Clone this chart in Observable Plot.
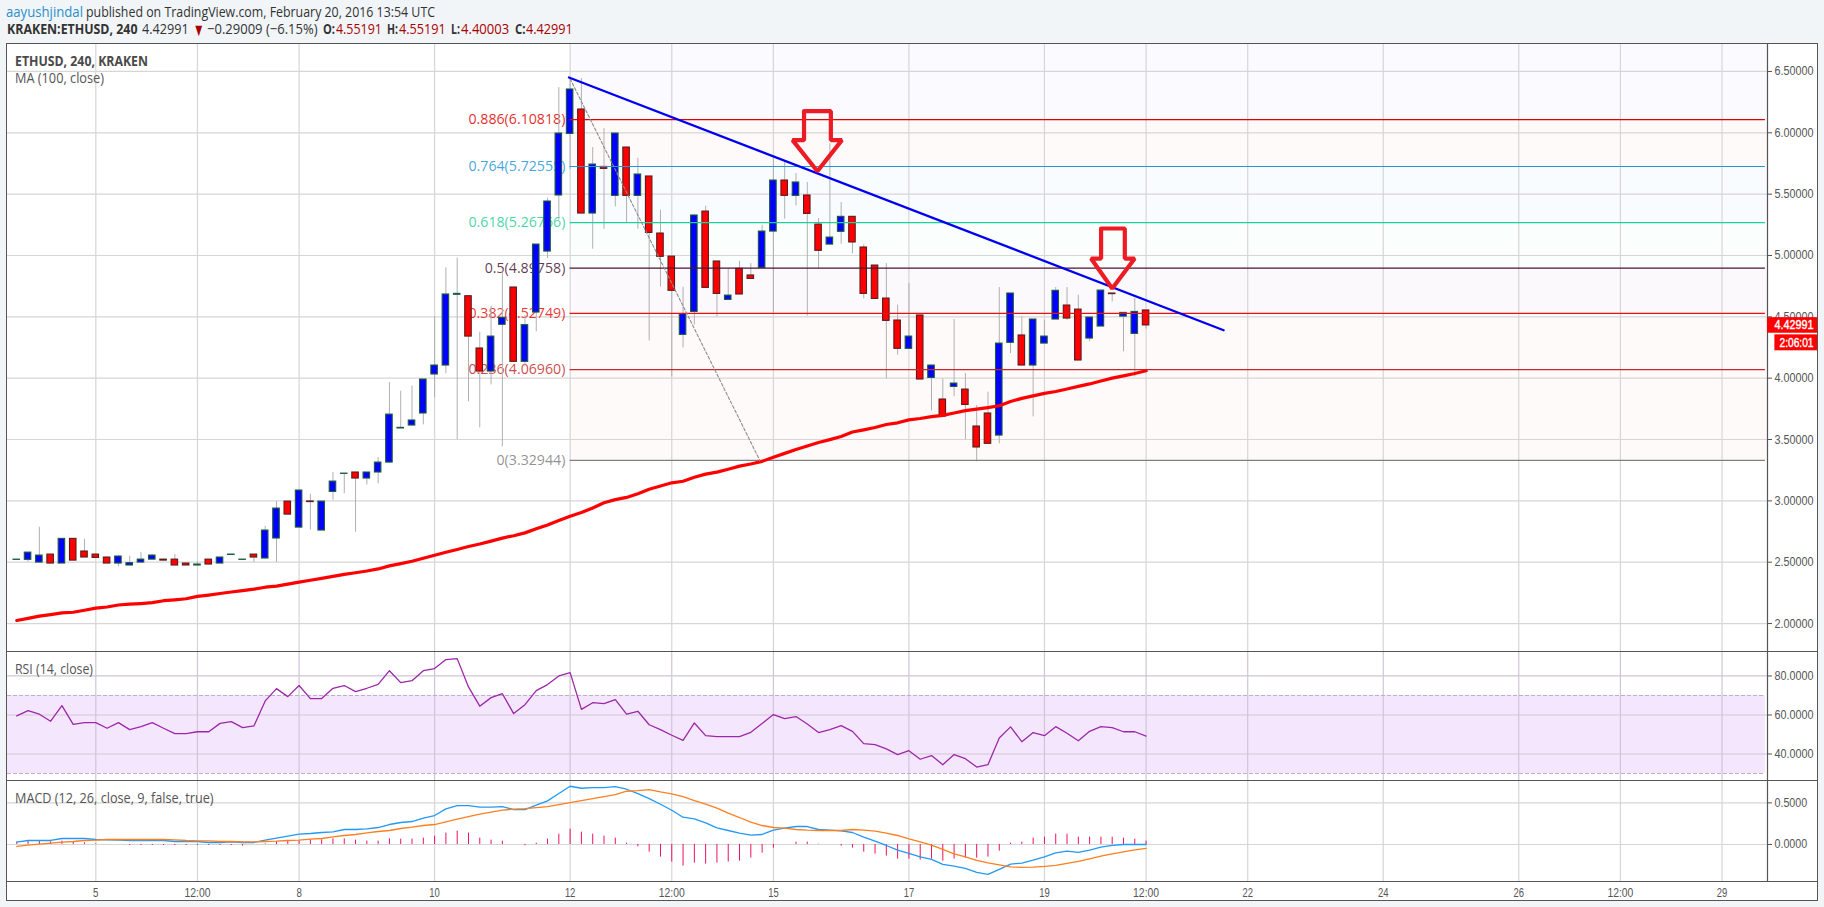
<!DOCTYPE html>
<html><head><meta charset="utf-8">
<script src="https://cdn.jsdelivr.net/npm/d3@7"></script>
<script src="https://cdn.jsdelivr.net/npm/@observablehq/plot@0.6"></script>
<style>
html,body{margin:0;padding:0;background:#f1f5f8;width:1824px;height:907px;overflow:hidden}
#frame{position:absolute;left:6px;top:43px;width:1810px;height:856px;background:#fff;border:1px solid #555}
.pane{position:absolute;left:0}
.pane svg{display:block;background:transparent}
.t{position:absolute;white-space:nowrap;transform-origin:0 50%;font-family:"Open Sans";line-height:18px;height:18px}
</style></head><body>
<div id="frame"></div>
<div id="main" class="pane" style="top:43px"></div>
<div id="rsi" class="pane" style="top:651px"></div>
<div id="macd" class="pane" style="top:780px"></div>
<script>
const firstBarDay = 3 + 5/6, barStep = 1/6;
const opens  = [2.519,2.519,2.497,2.562,2.489,2.690,2.587,2.562,2.538,2.489,2.473,2.497,2.521,2.521,2.521,2.489,2.473,2.521,2.489,2.559,2.519,2.562,2.530,2.693,2.994,2.782,2.995,2.758,3.073,3.220,3.231,3.182,3.231,3.312,3.590,3.614,3.712,4.030,4.103,4.680,4.668,4.242,4.054,4.435,4.739,4.133,4.535,5.032,5.489,5.991,6.190,5.342,5.722,5.486,5.880,5.486,5.644,5.179,4.991,4.353,4.540,5.358,4.951,4.638,4.891,4.837,4.899,5.195,5.611,5.486,5.489,5.252,5.089,5.193,5.315,5.065,4.918,4.649,4.470,4.239,4.511,4.002,3.826,3.929,3.907,3.606,3.712,3.532,4.288,4.348,4.103,4.282,4.478,4.592,4.559,4.323,4.421,4.690,4.502,4.361,4.55191];
const highs  = [2.523,2.578,2.785,2.562,2.690,2.690,2.687,2.562,2.538,2.552,2.549,2.578,2.560,2.521,2.562,2.489,2.505,2.521,2.538,2.562,2.521,2.562,2.793,2.997,2.994,3.084,3.054,2.994,3.231,3.222,3.231,3.231,3.353,3.964,3.894,3.935,3.989,4.500,4.899,4.980,4.668,4.375,4.587,4.866,4.739,4.510,5.089,5.467,6.369,6.440,6.442,5.880,6.035,5.994,5.880,5.793,5.644,5.369,4.991,4.741,5.326,5.402,4.951,4.894,4.953,4.934,5.247,5.804,5.763,5.668,5.595,5.301,5.910,5.432,5.315,5.087,4.918,4.934,4.595,4.771,4.511,4.103,3.992,4.478,4.038,3.777,3.886,4.739,4.690,4.500,4.478,4.473,4.739,4.739,4.676,4.494,4.714,4.690,4.532,4.649,4.55191];
const lows   = [2.519,2.500,2.497,2.489,2.489,2.513,2.538,2.535,2.489,2.462,2.473,2.497,2.521,2.513,2.473,2.473,2.473,2.481,2.489,2.559,2.519,2.497,2.530,2.497,2.888,2.782,2.761,2.758,3.005,3.057,2.744,3.130,3.138,3.312,3.590,3.614,3.619,3.839,4.035,3.500,3.807,3.595,3.945,3.440,4.133,4.100,4.378,4.975,5.288,5.700,5.342,5.051,5.214,5.396,5.269,5.214,4.304,4.744,4.010,4.247,4.432,4.736,4.499,4.638,4.682,4.809,4.899,4.530,5.296,5.404,4.505,4.894,5.089,5.092,5.013,4.646,4.646,3.994,4.187,4.239,3.989,3.733,3.687,3.848,3.500,3.318,3.465,3.465,4.201,4.103,3.684,4.282,4.478,4.472,4.144,4.296,4.421,4.622,4.214,4.011,4.40003];
const closes = [2.521,2.578,2.554,2.489,2.690,2.513,2.538,2.535,2.489,2.546,2.492,2.521,2.554,2.513,2.473,2.473,2.481,2.481,2.538,2.562,2.521,2.538,2.758,2.937,2.888,3.084,2.990,2.994,3.157,3.222,3.182,3.231,3.312,3.703,3.595,3.655,3.989,4.103,4.682,4.687,4.339,4.054,4.339,4.492,4.133,4.432,5.089,5.440,5.994,6.353,5.342,5.741,5.706,5.994,5.486,5.660,5.184,4.989,4.712,4.521,5.326,4.736,4.687,4.673,4.682,4.809,5.195,5.611,5.486,5.595,5.339,5.038,5.146,5.315,5.106,4.687,4.646,4.467,4.239,4.339,3.989,4.103,3.687,3.956,3.782,3.435,3.465,4.282,4.690,4.103,4.478,4.339,4.712,4.486,4.144,4.494,4.714,4.685,4.532,4.540,4.42991];
const maValues = [2.025,2.042,2.060,2.073,2.087,2.092,2.108,2.125,2.135,2.151,2.158,2.163,2.170,2.186,2.193,2.202,2.221,2.232,2.245,2.257,2.268,2.280,2.296,2.305,2.321,2.337,2.353,2.368,2.384,2.401,2.414,2.428,2.445,2.470,2.488,2.508,2.532,2.557,2.581,2.604,2.628,2.648,2.672,2.696,2.716,2.739,2.772,2.804,2.840,2.875,2.905,2.942,2.985,3.010,3.028,3.058,3.095,3.121,3.147,3.160,3.192,3.218,3.234,3.258,3.283,3.300,3.322,3.356,3.387,3.418,3.447,3.476,3.499,3.524,3.561,3.579,3.598,3.622,3.636,3.660,3.671,3.686,3.697,3.716,3.735,3.747,3.760,3.775,3.810,3.835,3.856,3.876,3.891,3.912,3.933,3.953,3.977,4.000,4.019,4.038,4.060];
const rsiValues = [59.5,62.2,60.4,56.8,64.8,55.2,56.1,56.1,53.2,56.1,52.5,54.0,56.1,53.2,50.4,50.4,51.4,51.4,55.7,56.6,53.5,54.4,67.2,73.5,69.4,75.1,68.4,68.4,73.7,75.1,72.0,73.7,75.7,82.7,76.6,77.6,82.7,83.8,88.4,88.9,74.4,64.5,68.9,70.9,60.7,65.3,72.5,75.6,80.0,81.7,62.9,66.3,65.8,67.9,60.4,61.9,55.0,52.5,49.6,47.0,55.9,49.4,48.9,48.9,48.9,51.1,55.6,60.2,58.1,59.2,55.4,51.0,52.5,54.5,51.6,45.3,44.8,42.6,39.7,41.7,37.3,39.2,34.5,39.7,37.6,33.3,34.5,48.2,53.9,46.3,51.0,49.4,54.0,50.6,46.8,51.6,54.0,53.5,51.4,51.4,49.2];
const macdValues = [.028,.048,.048,.048,.072,.072,.072,.06,.056,.052,.048,.048,.048,.048,.036,.036,.036,.024,.024,.032,.024,.024,.052,.076,.1,.124,.132,.144,.152,.18,.18,.188,.204,.24,.264,.276,.316,.348,.428,.468,.468,.448,.448,.456,.42,.42,.472,.524,.612,.70,.676,.684,.684,.696,.664,.612,.552,.484,.412,.328,.308,.26,.2,.168,.136,.112,.12,.172,.196,.216,.216,.18,.172,.164,.144,.088,.04,-.012,-.068,-.108,-.148,-.18,-.24,-.26,-.288,-.336,-.36,-.3,-.236,-.224,-.188,-.148,-.1,-.08,-.096,-.068,-.032,-.012,0,0,0];
const signalValues = [-.024,-.008,.004,.016,.028,.036,.048,.052,.06,.06,.06,.06,.06,.06,.056,.048,.044,.044,.036,.036,.032,.032,.036,.04,.048,.052,.064,.072,.092,.108,.12,.14,.156,.168,.192,.208,.228,.24,.272,.304,.336,.364,.388,.412,.424,.432,.444,.456,.48,.504,.528,.552,.576,.6,.64,.648,.66,.632,.608,.576,.528,.484,.436,.376,.324,.268,.228,.204,.196,.18,.172,.168,.168,.168,.18,.172,.16,.136,.108,.068,.032,-.008,-.06,-.112,-.148,-.192,-.22,-.244,-.268,-.276,-.272,-.264,-.252,-.228,-.204,-.172,-.14,-.112,-.088,-.064,-.048];
const histValues = [.028,.04,.044,.032,.04,.036,.02,.008,0,0,-.012,-.012,-.012,-.012,-.012,-.012,-.012,-.012,-.012,-.012,-.02,0,.008,.036,.044,.044,.06,.056,.068,.068,.052,.04,.04,.068,.064,.064,.076,.1,.136,.16,.136,.076,.052,.04,0,-.016,.016,.064,.124,.184,.148,.124,.1,.076,.016,-.028,-.092,-.152,-.212,-.26,-.224,-.236,-.224,-.212,-.2,-.164,-.104,-.044,0,.028,.028,.004,0,-.02,-.044,-.092,-.116,-.14,-.176,-.176,-.188,-.176,-.2,-.176,-.164,-.164,-.152,-.08,.016,.028,.076,.088,.124,.124,.088,.088,.088,.088,.076,.064,.04];

const fibRatios = ["0.886","0.764","0.618","0.5","0.382","0.236","0"];
const fibPrices = [6.10818,5.72555,5.26766,4.89758,4.52749,4.06960,3.32944];
const fibColors = ["#e00000","#2196d8","#1fcf98","#4a1436","#e81010","#c62828","#808080"];
const fibTints  = ["#fffafa","#f8fcff","#fafffd","#fbf9fb","#fffafa","#fefafa"];
const fibTopTint = "#fbfbff";
const fibStartDay = 12;

const trendDays = [11.983,21.645], trendPrices = [6.451,4.391];
const retraceDays = [12,14.8], retracePrices = [6.44,3.32944];
const arrowDays1 = [15.452,15.848,15.848,16.011,15.649,15.282,15.452,15.452];
const arrowPrices1 = [6.176,6.176,5.940,5.940,5.687,5.940,5.940,6.176];
const arrowDays2 = [19.836,20.186,20.186,20.332,20.0,19.688,19.836,19.836];
const arrowPrices2 = [5.220,5.220,4.975,4.975,4.731,4.975,4.975,5.220];

const tickDays = [5,6.5,8,10,12,13.5,15,17,19,20.5,22,24,26,27.5,29];
const tickLabels = ["5","12:00","8","10","12","12:00","15","17","19","12:00","22","24","26","12:00","29"];
const boldDays = [8,15,22,29];
const priceTicks = [2,2.5,3,3.5,4,4.5,5,5.5,6,6.5];
const rsiTicks = [40,60,80], rsiBand = [30,70];
const macdTicks = [0,0.5];

const bars = opens.map((o,i)=>({day:firstBarDay+i*barStep,o,h:highs[i],l:lows[i],c:closes[i],up:closes[i]>=o,hist:histValues[i]}));

const W = 1824, mL = 7, mR = 57;
const xDomain = [3.6967,29.671], xEdge = 30.41;
const gridColor = "#d6d6d6", lineColor = "#555";
const axisStyle = {background:"transparent",fontFamily:"'Liberation Sans',sans-serif",fontSize:"12px",color:"#555"};
const xOpts = {type:"linear",domain:xDomain,axis:null};
const vGrid = Plot.ruleX(tickDays,{stroke:gridColor,strokeWidth:1.2});
const hGrid = t => Plot.ruleY(t,{stroke:gridColor,strokeWidth:1.2,x1:xDomain[0],x2:xDomain[1]});
const paneLine = v => Plot.ruleY([v],{stroke:lineColor,strokeWidth:1.2,x1:xDomain[0],x2:xEdge});
const rightLine = Plot.ruleX([xDomain[1]],{stroke:lineColor,strokeWidth:1.2});
const rightAxis = (ticks,fmt) => Plot.axisY({anchor:"right",ticks,tickFormat:fmt,tickSize:4,tickPadding:3,label:null,stroke:"#555"});

// MAIN PANE
const yMain = [1.772,6.728];
const fibBands = fibTints.map((fill,i)=>({y1:fibPrices[i+1],y2:fibPrices[i],fill}));
fibBands.push({y1:fibPrices[0],y2:yMain[1],fill:fibTopTint});
const fibs = fibRatios.map((r,i)=>({r,p:fibPrices[i],color:fibColors[i],label:`${r}(${fibPrices[i].toFixed(5)})`}));
const wickColor = "#b0b0b0";
const mainPlot = Plot.plot({
  width:W,height:608,marginLeft:mL,marginRight:mR,marginTop:0,marginBottom:0,
  style:axisStyle,x:xOpts,y:{domain:yMain,axis:null},
  marks:[
    Plot.rect(fibBands,{x1:fibStartDay,x2:xDomain[1],y1:"y1",y2:"y2",fill:d=>d.fill}),
    vGrid,hGrid(priceTicks),
    Plot.text(fibs,{x:11.93,y:"p",text:"label",fill:"color",fillOpacity:.85,textAnchor:"end",fontFamily:"Open Sans",fontSize:14.2}),
    Plot.ruleX(bars,{x:"day",y1:"l",y2:"h",stroke:wickColor,strokeWidth:1}),
    Plot.rect(bars,{x1:d=>d.day-.048,x2:d=>d.day+.048,y1:"o",y2:"c",fill:d=>d.up?"#0000ff":"#ff0000",stroke:d=>d.up?"#1b5a3c":"#5a1c1c",strokeWidth:1.1}),
    Plot.ruleY(fibs,{y:"p",x1:fibStartDay,x2:29.64,stroke:"color",strokeWidth:1.2}),
    Plot.line(maValues,{x:(d,i)=>bars[i].day,y:d=>d,stroke:"#ff0000",strokeWidth:3.2}),
    Plot.line(retraceDays,{x:d=>d,y:(d,i)=>retracePrices[i],stroke:"#8c8c8c",strokeWidth:1.1,strokeDasharray:"3,2"}),
    Plot.line(trendDays,{x:d=>d,y:(d,i)=>trendPrices[i],stroke:"#0000f0",strokeWidth:2.3}),
    Plot.line(arrowDays1,{x:d=>d,y:(d,i)=>arrowPrices1[i],stroke:"#ed1c24",strokeWidth:4.2,strokeLinejoin:"miter"}),
    Plot.line(arrowDays2,{x:d=>d,y:(d,i)=>arrowPrices2[i],stroke:"#ed1c24",strokeWidth:4.2,strokeLinejoin:"miter"}),
    rightLine,
    rightAxis(priceTicks,d3.format(".5f")),
    Plot.rect([closes[100]],{x1:xDomain[1],x2:xEdge,y1:d=>d-.0636,y2:d=>d+.0636,fill:"#ff0000"}),
    Plot.rect([0],{x1:29.78,x2:xEdge,y1:4.223,y2:4.353,fill:"#ff0000"}),
    Plot.text([closes[100]],{x:30.35,y:d=>d,text:d=>d.toFixed(5),textAnchor:"end",fill:"#fff",stroke:"#fff",strokeWidth:.4}),
    Plot.text(["2:06:01"],{x:30.35,y:4.288,text:d=>d,textAnchor:"end",fill:"#fff",stroke:"#fff",strokeWidth:.4}),
    paneLine(yMain[1])
  ]
});
document.getElementById("main").append(mainPlot);

// RSI PANE
const yRsi = [26.4,92.55];
const rsiPlot = Plot.plot({
  width:W,height:129,marginLeft:mL,marginRight:mR,marginTop:0,marginBottom:0,
  style:axisStyle,x:xOpts,y:{domain:yRsi,axis:null},
  marks:[
    Plot.rect([rsiBand],{x1:xDomain[0],x2:29.64,y1:d=>d[0],y2:d=>d[1],fill:"#f4e7fd"}),
    Plot.ruleX(tickDays,{stroke:"#cfc5d6",strokeWidth:1.2}),
    Plot.ruleY(rsiTicks,{stroke:"#cfc5d6",strokeWidth:1.2,x1:xDomain[0],x2:xDomain[1]}),
    Plot.ruleY(rsiBand,{stroke:"#bdaec6",strokeWidth:1,strokeDasharray:"4,2",x1:xDomain[0],x2:29.64}),
    Plot.line(rsiValues,{x:(d,i)=>bars[i].day,y:d=>d,stroke:"#9c27a8",strokeWidth:1.3}),
    rightLine,
    rightAxis(rsiTicks,d3.format(".4f")),
    paneLine(yRsi[1])
  ]
});
document.getElementById("rsi").append(rsiPlot);

// MACD PANE
const yMacd = [-.445,.769];
const macdPlot = Plot.plot({
  width:W,height:120,marginLeft:mL,marginRight:mR,marginTop:0,marginBottom:19,
  style:axisStyle,x:{...xOpts},y:{domain:yMacd,axis:null},
  marks:[
    vGrid,hGrid(macdTicks),
    Plot.ruleX(bars,{x:"day",y1:0,y2:"hist",stroke:"#ef1060",strokeWidth:1}),
    Plot.line(macdValues,{x:(d,i)=>bars[i].day,y:d=>d,stroke:"#2299f5",strokeWidth:1.3}),
    Plot.line(signalValues,{x:(d,i)=>bars[i].day,y:d=>d,stroke:"#ff7f20",strokeWidth:1.3}),
    rightLine,
    rightAxis(macdTicks,d3.format(".4f")),
    paneLine(yMacd[1]),paneLine(yMacd[0]),
    Plot.axisX({ticks:tickDays.filter(d=>!boldDays.includes(d)),tickFormat:d=>tickLabels[tickDays.indexOf(d)],tickSize:0,tickPadding:7,label:null}),
    Plot.axisX({ticks:boldDays,tickFormat:d=>tickLabels[tickDays.indexOf(d)],tickSize:0,tickPadding:7,label:null,stroke:"#555",strokeWidth:.3})
  ]
});
document.getElementById("macd").append(macdPlot);

// the reference's axis text is narrower than its height: fit each label's width
const fitRules = [[/^\d\.\d{5}$/,39],[/^\d\d\.\d{4}$/,39],[/^\d\.\d{4}$/,32.6],[/^\d+:\d\d$/,26],[/^\d:\d\d:\d\d$/,34],[/^\d\d$/,10.5],[/^\d$/,5.4]];
document.querySelectorAll(".pane text").forEach(t=>{
  const s=t.textContent.trim(), rule=fitRules.find(r=>r[0].test(s));
  if(!rule)return;
  t.style.fontSize="12.5px";
  t.setAttribute("textLength",rule[1]);
  t.setAttribute("lengthAdjust","spacingAndGlyphs");
});

// TEXT ABOVE / OVER THE PANES
function put(text,x,cy,width,size,color,weight){
  const e=document.createElement("div");e.className="t";e.textContent=text;
  e.style.left=x+"px";e.style.top=(cy-9)+"px";e.style.fontSize=size+"px";e.style.color=color;
  if(weight)e.style.fontWeight=weight;
  document.body.append(e);
  const w=e.getBoundingClientRect().width;
  if(width)e.style.transform=`scaleX(${width/w})`;
}
const dark="#333",dred="#a80000";
put("aayushjindal",6,11.7,77,14.5,"#2a8fc8");
put("published on TradingView.com, February 20, 2016 13:54 UTC",86,11.7,349,14.5,dark);
put("KRAKEN:ETHUSD, 240",7.3,29.3,130.5,14.5,dark,"700");
put("4.42991",141.6,29.3,46.7,14.5,dark);
put("▼",192.5,29.3,11.5,18,dred);
put("−0.29009 (−6.15%)",207,29.3,110.6,14.5,dark);
put("O:",322.6,29.3,12,14.5,dark,"700"); put("4.55191",335.6,29.3,45.9,14.5,dred);
put("H:",387.3,29.3,11,14.5,dark,"700"); put("4.55191",399,29.3,46.8,14.5,dred);
put("L:",451,29.3,9,14.5,dark,"700");  put("4.40003",460.8,29.3,48.2,14.5,dred);
put("C:",514.7,29.3,10.5,14.5,dark,"700"); put("4.42991",525.8,29.3,46.7,14.5,dred);
put("ETHUSD, 240, KRAKEN",15.3,60.7,133,14.5,"#4a4a4a","700");
put("MA (100, close)",15,77.7,89,14.5,"#555");
put("RSI (14, close)",15,668.7,78,14.5,"#555");
put("MACD (12, 26, close, 9, false, true)",15,797.7,198.5,14.5,"#555");
</script>
</body></html>
